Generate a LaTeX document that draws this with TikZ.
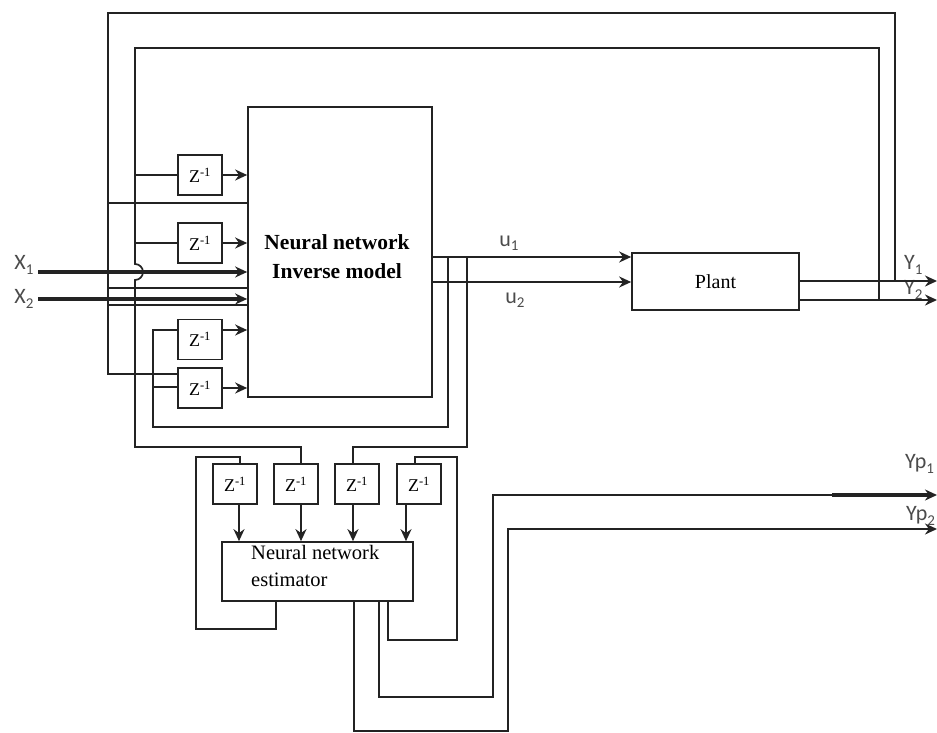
\documentclass[tikz,border=0pt]{standalone}
\usepackage{fontspec}
\setmainfont{Liberation Serif}
\newfontfamily\lblfont{Carlito}
\usetikzlibrary{arrows.meta}
\definecolor{lncol}{RGB}{35,35,35}
\definecolor{lblcol}{RGB}{75,75,75}
\newcommand\subx[1]{\raisebox{-0.4ex}{\fontsize{15}{15}\selectfont #1}}
\begin{document}
\begin{tikzpicture}[x=1pt,y=-1pt,
  ln/.style={draw=lncol, line width=1.7pt},
  arr/.style={draw=lncol, line width=2.4pt, -{Stealth[length=12pt,width=11pt]}},
  boxst/.style={draw=lncol, line width=1.7pt, fill=white, inner sep=0pt},
  zbox/.style={boxst, minimum width=44pt, minimum height=40pt, font=\fontsize{18}{18}\selectfont},
  lbl/.style={font=\lblfont\fontsize{22}{22}\selectfont, text=lblcol, inner sep=0pt}
]
\useasboundingbox (0,0) rectangle (937,733);

% boxes
\node[boxst, minimum width=184pt, minimum height=290pt] (nn) at (340,252) {};
\node[font=\bfseries\fontsize{21.5}{29}\selectfont, align=center, inner sep=0pt] (nntxt) at (337,257) {Neural network\\Inverse model};
\node[boxst, minimum width=167pt, minimum height=57pt, font=\fontsize{20}{20}\selectfont] (plant) at (715.5,281.5) {Plant};
\node[boxst, minimum width=191pt, minimum height=59pt] (est) at (317.5,571.5) {};
\node[font=\fontsize{20.5}{27}\selectfont, align=left, inner sep=0pt, anchor=north west] (esttxt) at (251,545) {Neural network\\estimator};

\node[zbox] (z1) at (200,175) {Z\textsuperscript{-1}};
\node[zbox] (z2) at (200,243) {Z\textsuperscript{-1}};
\node[zbox] (z3) at (200,339.5) {Z\textsuperscript{-1}};
\node[zbox] (z4) at (200,388) {Z\textsuperscript{-1}};

\node[zbox] (zA) at (235,484) {Z\textsuperscript{-1}};
\node[zbox] (zB) at (296,484) {Z\textsuperscript{-1}};
\node[zbox] (zC) at (357,484) {Z\textsuperscript{-1}};
\node[zbox] (zD) at (419,484) {Z\textsuperscript{-1}};

% labels
\node[lbl] (lx1) at (24,265) {X\subx{1}};
\node[lbl] (lx2) at (24,299) {X\subx{2}};
\node[lbl] (lu1) at (509,243) {u\subx{1}};
\node[lbl] (lu2) at (515,300) {u\subx{2}};
\node[lbl, anchor=west] (ly1) at (904,265) {Y\subx{1}};
\node[lbl, anchor=west] (ly2) at (904,290) {Y\subx{2}};
\node[lbl, anchor=west] (lyp1) at (905,464) {Yp\subx{1}};
\node[lbl, anchor=west] (lyp2) at (906,516) {Yp\subx{2}};

% Y1 feedback
\draw[arr] (plant.east |- 0,281) -- (937,281);
\draw[ln] (895,281) -- (895,13) -- (108,13) -- (108,374) -- (z4.west |- 0,374);
\draw[ln] (108,203) -- (nn.west |- 0,203);
\draw[ln] (108,288) -- (nn.west |- 0,288);
\draw[ln] (108,305) -- (nn.west |- 0,305);

% Y2 feedback
\draw[arr] (plant.east |- 0,300) -- (937,300);
\draw[ln] (879,300) -- (879,48) -- (135,48) -- (135,264)
  arc[start angle=-90, end angle=90, radius=8] -- (135,447) -- (301,447) -- (301,0 |- zB.north);
\draw[ln] (135,175) -- (z1.west);
\draw[ln] (135,243) -- (z2.west);

% u feedback
\draw[ln] (448,257) -- (448,427) -- (153,427) -- (153,330) -- (z3.west |- 0,330);
\draw[ln] (153,387) -- (z4.west |- 0,387);
\draw[ln] (467,257) -- (467,447) -- (353,447) -- (353,0 |- zC.north);

% inputs
\draw[arr, line width=3.2pt] (38,272) -- (nn.west |- 0,272);
\draw[arr, line width=3.2pt] (38,299) -- (nn.west |- 0,299);

% delay outputs
\draw[arr] (z1.east) -- (nn.west |- z1.east);
\draw[arr] (z2.east) -- (nn.west |- z2.east);
\draw[arr] (z3.east |- 0,330) -- (nn.west |- 0,330);
\draw[arr] (z4.east) -- (nn.west |- z4.east);

% controls
\draw[arr, line width=2.8pt] (nn.east |- 0,257) -- (plant.west |- 0,257);
\draw[arr, line width=2.8pt] (nn.east |- 0,282) -- (plant.west |- 0,282);

% estimator delays
\draw[arr] (239,0 |- zA.south) -- (239,0 |- est.north);
\draw[arr] (301,0 |- zB.south) -- (301,0 |- est.north);
\draw[arr] (353,0 |- zC.south) -- (353,0 |- est.north);
\draw[arr] (406,0 |- zD.south) -- (406,0 |- est.north);

% estimator loops
\draw[ln] (276,0 |- est.south) -- (276,629) -- (196,629) -- (196,457) -- (240,457) -- (240,0 |- zA.north);
\draw[ln] (388,0 |- est.south) -- (388,640) -- (457,640) -- (457,457) -- (415,457) -- (415,0 |- zD.north);

% estimator outputs
\draw[ln] (379,0 |- est.south) -- (379,697) -- (493,697) -- (493,495) -- (832,495) coordinate (yp1s);
\draw[arr, line width=3.4pt] (yp1s) -- (937,495);
\draw[arr, line width=2.6pt] (354,0 |- est.south) -- (354,731) -- (508,731) -- (508,529) -- (937,529);

\end{tikzpicture}
\end{document}
